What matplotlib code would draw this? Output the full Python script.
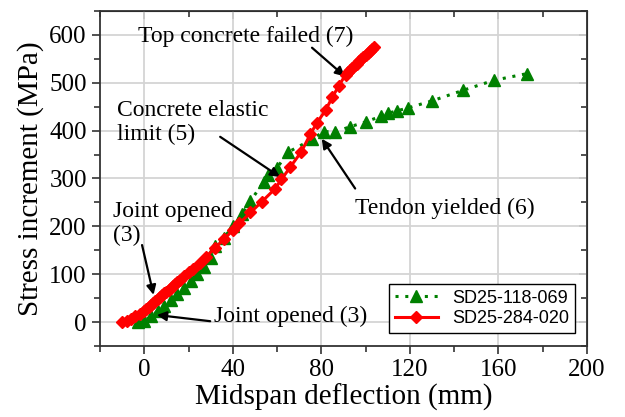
import numpy as np
import matplotlib.pyplot as plt
from matplotlib.ticker import MultipleLocator

plt.rcParams['font.family'] = ['Liberation Serif', 'DejaVu Serif']
plt.rcParams['mathtext.fontset'] = 'stix'

# SD25-118-069 (green triangles)
defl_a = [-3, 0, 3, 6, 9, 12, 15, 18, 21, 24, 27, 30, 32, 36, 40, 44, 48,
          54, 56, 60, 65, 76, 81, 86, 93, 100, 107, 110, 114, 119, 130,
          144, 158, 173]
stress_a = [0, 3, 12, 23, 34, 46, 59, 72, 86, 100, 116, 133, 158, 176, 200,
            225, 253, 293, 307, 322, 355, 382, 398, 397, 408, 418, 430,
            436, 441, 447, 462, 484, 505, 519]

# SD25-284-020 (red diamonds)
defl_b = [-10, -8, -6, -4, -2, 0, 1, 2, 3, 4, 5, 6, 7, 8, 9, 10, 11, 12,
          13, 14, 15, 16, 18, 20, 22, 25, 28, 32, 36, 40, 43, 48, 53, 59,
          62, 66, 71, 75, 78, 82, 85, 88, 91, 92, 93, 94, 95, 96, 97, 98,
          99, 100, 101, 102, 103, 104]
stress_b = [0, 3, 7, 12, 18, 24, 28, 32, 36, 40, 44, 48, 52, 56, 60, 64,
            68, 72, 76, 80, 84, 88, 96, 104, 112, 124, 137, 155, 173, 192,
            206, 229, 251, 278, 298, 324, 356, 392, 416, 443, 470, 494,
            517, 522, 527, 531, 536, 540, 545, 549, 554, 558, 563, 567,
            571, 575]

fig = plt.figure(figsize=(6.25, 4.17), dpi=100)
ax = fig.add_axes([0.16, 0.17, 0.779, 0.804])

ax.plot(defl_a, stress_a, color='green', linestyle=(0, (1, 2.2)), lw=2.2,
        marker='^', markersize=8, label='SD25-118-069', zorder=3)
ax.plot(defl_b, stress_b, color='red', linestyle='-', lw=2.2,
        marker='D', markersize=6.5, label='SD25-284-020', zorder=4)

ax.set_xlim(-20, 200)
ax.set_ylim(-50, 650)
ax.set_xticks(np.arange(0, 201, 40))
ax.set_yticks(np.arange(0, 601, 100))
ax.xaxis.set_minor_locator(MultipleLocator(20))
ax.yaxis.set_minor_locator(MultipleLocator(50))
ax.grid(True, which='major', color='#d4d4d4', lw=1.3, zorder=0)
ax.set_axisbelow(True)
ax.tick_params(which='both', direction='out', labelsize=18, width=1.2,
               color='#333333')
ax.tick_params(which='major', length=6)
ax.tick_params(which='minor', length=4)
for s in ax.spines.values():
    s.set_color('#333333')
    s.set_linewidth(1.3)

# mirrored ticks on top and right, pointing inward
top = ax.secondary_xaxis('top')
top.set_xticks(np.arange(0, 201, 40))
top.xaxis.set_minor_locator(MultipleLocator(20))
top.tick_params(which='both', direction='in', labeltop=False, width=1.2,
                color='#333333')
top.tick_params(which='major', length=6)
top.tick_params(which='minor', length=4)
right = ax.secondary_yaxis('right')
right.set_yticks(np.arange(0, 601, 100))
right.yaxis.set_minor_locator(MultipleLocator(50))
right.tick_params(which='both', direction='in', labelright=False, width=1.2,
                  color='#333333')
right.tick_params(which='major', length=6)
right.tick_params(which='minor', length=4)

ax.set_xlabel('Midspan deflection (mm)', fontsize=21, labelpad=2)
ax.set_ylabel('Stress increment (MPa)', fontsize=21, labelpad=4)

arrow = dict(arrowstyle='-|>', color='black', lw=1.6, mutation_scale=14,
             shrinkA=0, shrinkB=0)
fs = 17

ax.text(-2.7, 596, 'Top concrete failed (7)', fontsize=fs, va='center')
ax.annotate('', xy=(90.7, 513), xytext=(75.8, 573), arrowprops=arrow)

ax.text(-12.3, 417, 'Concrete elastic\nlimit (5)', fontsize=fs,
        va='center', linespacing=1.15)
ax.annotate('', xy=(61.4, 303), xytext=(34.3, 387), arrowprops=arrow)

ax.text(-13.9, 206, 'Joint opened\n(3)', fontsize=fs, va='center',
        linespacing=1.15)
ax.annotate('', xy=(4.2, 57), xytext=(-1, 161), arrowprops=arrow)

ax.text(31.3, 11, 'Joint opened (3)', fontsize=fs, va='center')
ax.annotate('', xy=(5.7, 15), xytext=(29.8, 2), arrowprops=arrow)

ax.text(95.3, 237, 'Tendon yielded (6)', fontsize=fs, va='center')
ax.annotate('', xy=(80.2, 383), xytext=(95.3, 279), arrowprops=arrow)

leg = ax.legend(loc='lower right', bbox_to_anchor=(0.975, 0.04),
                borderaxespad=0, fancybox=False, edgecolor='black',
                framealpha=1, handlelength=2.4,
                prop={'family': 'Liberation Sans', 'size': 13},
                borderpad=0.3, labelspacing=0.2)
leg.get_frame().set_linewidth(1.0)

fig.savefig('out.png', dpi=100)
